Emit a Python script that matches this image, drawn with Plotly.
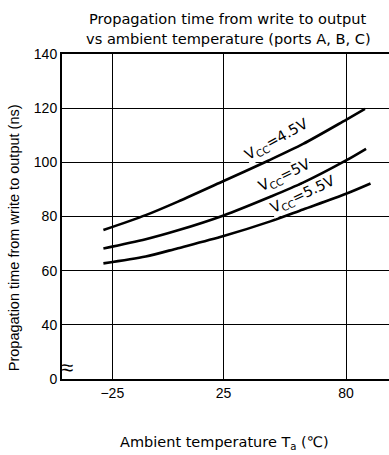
import plotly.graph_objects as go

# Ambient temperature (°C) and propagation time (ns) for each supply voltage
temp_45 = [-29, -10, 4.5, 25, 45, 60.7, 80, 88.5]
time_45 = [75.0, 80.5, 85.5, 93.1, 100.6, 106.8, 115.7, 119.7]

temp_50 = [-29, -10, 4.5, 25, 46, 60.7, 80, 89]
time_50 = [68.2, 71.6, 74.9, 80.4, 87.3, 92.5, 100.7, 105.0]

temp_55 = [-29, -10, 4.5, 25, 46, 60.7, 80, 91]
time_55 = [62.7, 65.2, 68.3, 72.8, 78.2, 82.6, 88.4, 92.2]

x_ticks = [-25, 25, 80]
x_tick_text = ["\u221225", "25", "80"]
# the bottom of the axis is broken: the lowest position is labelled 0
y_ticks = [20, 40, 60, 80, 100, 120, 140]
y_tick_text = ["0", "40", "60", "80", "100", "120", "140"]

curve_labels = [
    ("V<sub>CC</sub>=4.5V", 48.8, 108.3, -29),
    ("V<sub>CC</sub>=5V", 52.3, 94.9, -26),
    ("V<sub>CC</sub>=5.5V", 60.6, 88.1, -25),
]

FONT = "Liberation Sans, Arial, Helvetica, sans-serif"
WIDE = "DejaVu Sans, Verdana, sans-serif"

fig = go.Figure()
for tx, ty in [(temp_45, time_45), (temp_50, time_50), (temp_55, time_55)]:
    fig.add_trace(go.Scatter(
        x=tx, y=ty, mode="lines",
        line=dict(color="black", width=2.6, shape="spline", smoothing=0.8),
        showlegend=False, hoverinfo="skip",
    ))

for text, lx, ly, ang in curve_labels:
    fig.add_annotation(
        x=lx, y=ly, text=text, showarrow=False, textangle=ang,
        font=dict(family=WIDE, size=14.5, color="black"),
        bgcolor="white", borderpad=0,
    )

# titles
fig.add_annotation(
    x=0.505, y=1.077, xref="paper", yref="paper", xanchor="center", yanchor="bottom",
    text="Propagation time from write to output", showarrow=False,
    font=dict(family=WIDE, size=14.6, color="black"),
)
fig.add_annotation(
    x=0.51, y=1.015, xref="paper", yref="paper", xanchor="center", yanchor="bottom",
    text="vs ambient temperature (ports A, B, C)", showarrow=False,
    font=dict(family=WIDE, size=14.6, color="black"),
)
fig.add_annotation(
    x=0.498, y=-0.197, xref="paper", yref="paper", xanchor="center", yanchor="middle",
    text="Ambient temperature T<sub>a</sub> (\u2103)", showarrow=False,
    font=dict(family=WIDE, size=14.5, color="black"),
)
fig.add_annotation(
    x=-0.146, y=0.434, xref="paper", yref="paper", xanchor="center", yanchor="middle",
    text="Propagation time from write to output (ns)", showarrow=False, textangle=-90,
    font=dict(family=FONT, size=14.5, color="black"),
)
# axis break symbol near the bottom of the y axis
fig.add_annotation(
    x=0.015, y=24.4, xref="paper", yref="y", xanchor="center", yanchor="middle",
    text="\u2248", showarrow=False,
    font=dict(family=FONT, size=22, color="black"),
)

fig.update_xaxes(
    range=[-47.6, 99.3], tickvals=x_ticks, ticktext=x_tick_text,
    showgrid=True, gridcolor="black", gridwidth=1,
    showline=True, linecolor="black", linewidth=2, mirror=True,
    ticks="", zeroline=False,
    tickfont=dict(family=FONT, size=14, color="black"),
)
fig.update_yaxes(
    range=[20, 140], tickvals=y_ticks, ticktext=y_tick_text,
    showgrid=True, gridcolor="black", gridwidth=1,
    showline=True, linecolor="black", linewidth=2, mirror=False,
    ticks="", zeroline=False,
    tickfont=dict(family=FONT, size=14, color="black"),
)

fig.update_layout(
    width=389, height=455,
    margin=dict(l=62, r=0, t=54, b=76),
    paper_bgcolor="white", plot_bgcolor="white",
)

fig.write_html("out.html")
